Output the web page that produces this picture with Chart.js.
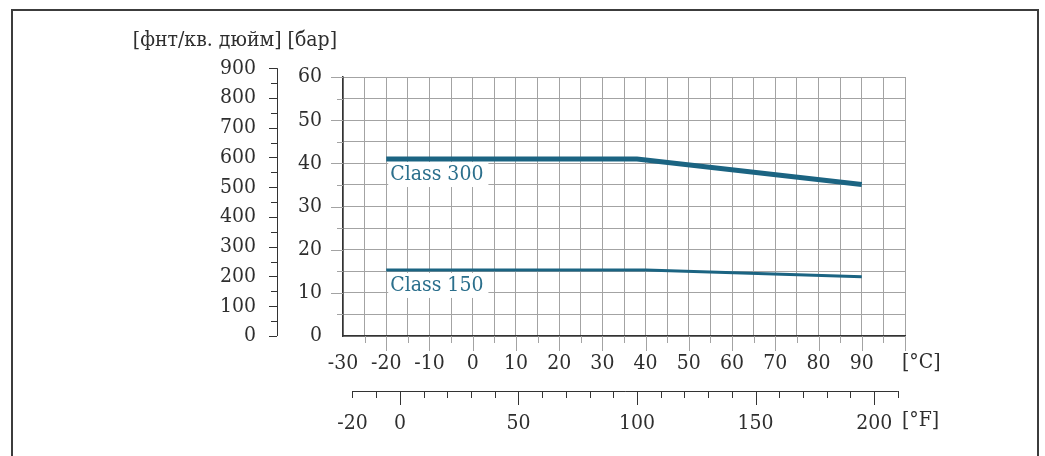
<!DOCTYPE html>
<html lang="ru">
<head>
<meta charset="UTF-8">
<title>Class 150 / Class 300</title>
<script src="https://cdn.jsdelivr.net/npm/chart.js@4"></script>
<style>
  html, body { margin: 0; padding: 0; background: #fff; overflow: hidden; }
  .frame {
    position: absolute; left: 11px; top: 9px; width: 1028px; height: 480px;
    box-sizing: border-box; border: 2px solid #3c3c3c;
  }
  #chart { position: absolute; left: 0; top: 0; }
</style>
</head>
<body>
<div class="frame"></div>
<canvas id="chart" width="1045" height="456"></canvas>
<script>
// допустимое давление, бар, по температуре, °C
const tempC300 = [-20, 38, 90];
const class300 = [41.0, 41.0, 35.1];
const tempC150 = [-20, 40, 90];
const class150 = [15.3, 15.3, 13.7];

// подписанные деления шкал
const celsiusLabels = [-30, -20, -10, 0, 10, 20, 30, 40, 50, 60, 70, 80, 90];
const barLabels = [0, 10, 20, 30, 40, 50, 60];
const psiLabels = [0, 100, 200, 300, 400, 500, 600, 700, 800, 900];
const fahrLabels = [-20, 0, 50, 100, 150, 200];

const PSI_PER_BAR = 14.5038;
const FONT = "'DejaVu Serif Condensed', 'DejaVu Serif', serif";
const FONT_SIZE = 21;
const GRID = '#a3a3a3';
const AXIS = '#333333';
const LINE = '#1b6482';
const LABEL = '#2b6f8c';

Chart.defaults.font.family = FONT;
Chart.defaults.font.size = FONT_SIZE;
Chart.defaults.color = '#2e2e2e';

function range(from, to, step) {
  const out = [];
  for (let v = from; v <= to; v += step) out.push(v);
  return out;
}

// деления, подписи единиц и подписи кривых
const axisMarks = {
  id: 'axisMarks',
  afterDraw(chart) {
    const { ctx, chartArea, scales } = chart;
    const { x, y, xF, psi } = scales;
    const half = v => Math.round(v) + 0.5;
    ctx.save();
    ctx.lineWidth = 1;

    // сетка выходит за оси короткими штрихами
    ctx.strokeStyle = GRID;
    ctx.beginPath();
    x.ticks.forEach(t => {
      if (t.value === x.min) return;
      const px = half(x.getPixelForValue(t.value));
      const len = t.value % 10 === 0 ? 15 : 7;
      ctx.moveTo(px, x.top); ctx.lineTo(px, x.top + len);
    });
    y.ticks.forEach(t => {
      if (t.value === y.min) return;
      const py = half(y.getPixelForValue(t.value));
      const len = t.value % 10 === 0 ? 12 : 6;
      ctx.moveTo(y.right - len, py); ctx.lineTo(y.right, py);
    });
    ctx.stroke();

    // шкала psi
    ctx.strokeStyle = AXIS;
    ctx.beginPath();
    const px0 = half(psi.right);
    ctx.moveTo(px0, psi.getPixelForValue(0));
    ctx.lineTo(px0, psi.getPixelForValue(900));
    psi.ticks.forEach(t => {
      const py = half(psi.getPixelForValue(t.value));
      const len = t.value % 100 === 0 ? 8 : 6;
      ctx.moveTo(psi.right - len, py); ctx.lineTo(psi.right, py);
    });
    // шкала °F
    const fy = half(xF.top);
    ctx.moveTo(xF.getPixelForValue(-20), fy);
    ctx.lineTo(xF.getPixelForValue(210), fy);
    xF.ticks.forEach(t => {
      const px = half(xF.getPixelForValue(t.value));
      const len = t.value % 50 === 0 ? 14 : 7;
      ctx.moveTo(px, xF.top); ctx.lineTo(px, xF.top + len);
    });
    ctx.stroke();

    // единицы измерения
    ctx.font = FONT_SIZE + 'px ' + FONT;
    ctx.fillStyle = '#2e2e2e';
    ctx.textBaseline = 'middle';
    ctx.textAlign = 'right';
    ctx.fillText('[фнт/кв. дюйм] [бар]', y.right - 6, chartArea.top - 36);
    ctx.textAlign = 'left';
    ctx.fillText('[°C]', x.right - 3, x.top + 27);
    ctx.fillText('[°F]', xF.getPixelForValue(210) + 4, xF.top + 30);

    // подписи кривых на белой подложке
    chart.data.datasets.forEach((ds, i) => {
      const p = chart.getDatasetMeta(i).data[0];
      const w = ctx.measureText(ds.label).width;
      const bx = p.x + 2, by = p.y + 3;
      ctx.fillStyle = '#ffffff';
      ctx.fillRect(bx, by, w + 7, 25);
      ctx.fillStyle = LABEL;
      ctx.fillText(ds.label, bx + 2, by + 13);
    });
    ctx.restore();
  }
};

new Chart(document.getElementById('chart'), {
  type: 'line',
  data: {
    datasets: [
      {
        label: 'Class 300',
        data: tempC300.map((t, i) => ({ x: t, y: class300[i] })),
        borderColor: LINE, borderWidth: 5, pointRadius: 0
      },
      {
        label: 'Class 150',
        data: tempC150.map((t, i) => ({ x: t, y: class150[i] })),
        borderColor: LINE, borderWidth: 3, pointRadius: 0
      }
    ]
  },
  options: {
    responsive: false,
    animation: false,
    events: [],
    layout: { padding: { left: 100, right: 140, top: 77, bottom: 15 } },
    plugins: { legend: { display: false }, tooltip: { enabled: false } },
    scales: {
      x: {
        type: 'linear', position: 'bottom', weight: 0, min: -30, max: 100,
        ticks: {
          stepSize: 5, autoSkip: false, minRotation: 0, maxRotation: 0, padding: 15,
          callback: v => celsiusLabels.includes(v) ? String(v) : ''
        },
        grid: { color: GRID, drawTicks: false },
        border: { color: AXIS, width: 1.5 },
        afterFit: s => { s.height = 55; }
      },
      xF: {
        type: 'linear', position: 'bottom', weight: 1, min: -24, max: 213,
        afterBuildTicks: s => { s.ticks = range(-20, 210, 10).map(v => ({ value: v })); },
        ticks: {
          autoSkip: false, minRotation: 0, maxRotation: 0, padding: 12,
          callback: v => fahrLabels.includes(v) ? String(v) : ''
        },
        grid: { display: false },
        border: { display: false },
        afterFit: s => { s.height = 50; }
      },
      y: {
        type: 'linear', position: 'left', weight: 0, min: 0, max: 60,
        ticks: {
          stepSize: 5, autoSkip: false, padding: 21,
          callback: v => barLabels.includes(v) ? String(v) : ''
        },
        grid: { color: GRID, drawTicks: false },
        border: { color: AXIS, width: 1.5 },
        afterFit: s => { s.width = 66; }
      },
      psi: {
        type: 'linear', position: 'left', weight: 1, min: 0, max: 60 * PSI_PER_BAR,
        afterBuildTicks: s => { s.ticks = range(0, 900, 50).map(v => ({ value: v })); },
        ticks: {
          autoSkip: false, padding: 13,
          callback: v => psiLabels.includes(v) ? String(v) : ''
        },
        grid: { display: false },
        border: { display: false },
        afterFit: s => { s.width = 177; }
      }
    }
  },
  plugins: [axisMarks]
});
</script>
</body>
</html>
